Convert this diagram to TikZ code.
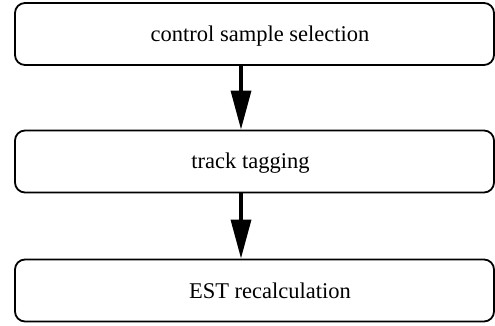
\documentclass[tikz,border=0pt]{standalone}
\usepackage{fontspec}
\setmainfont{Liberation Serif}
\usetikzlibrary{arrows.meta}
\begin{document}
\begin{tikzpicture}[x=1pt,y=-1pt,
  stepbox/.style={draw=black, line width=1.8pt, rounded corners=10pt, minimum width=479pt, minimum height=62pt, inner sep=0pt, outer sep=0pt},
  lbl/.style={anchor=base, inner sep=0pt, font=\fontsize{22.5pt}{26pt}\selectfont},
  arr/.style={line width=3.6pt, -{Triangle[length=39pt,width=20pt]}}]
\useasboundingbox (0,0) rectangle (495,325);
\node[stepbox] (b1) at (254.5,34) {};
\node[stepbox] (b2) at (254.5,161.5) {};
\node[stepbox] (b3) at (254.5,290.5) {};
\node[lbl] (t1) at (260,41.7) {control sample selection};
\node[lbl] (t2) at (250.5,168) {track tagging};
\node[lbl] (t3) at (270,298) {EST recalculation};
\draw[arr] ([xshift=-13.5pt]b1.south) -- ([xshift=-13.5pt,yshift=1pt]b2.north);
\draw[arr] ([xshift=-13.5pt]b2.south) -- ([xshift=-13.5pt,yshift=1pt]b3.north);
\end{tikzpicture}
\end{document}
